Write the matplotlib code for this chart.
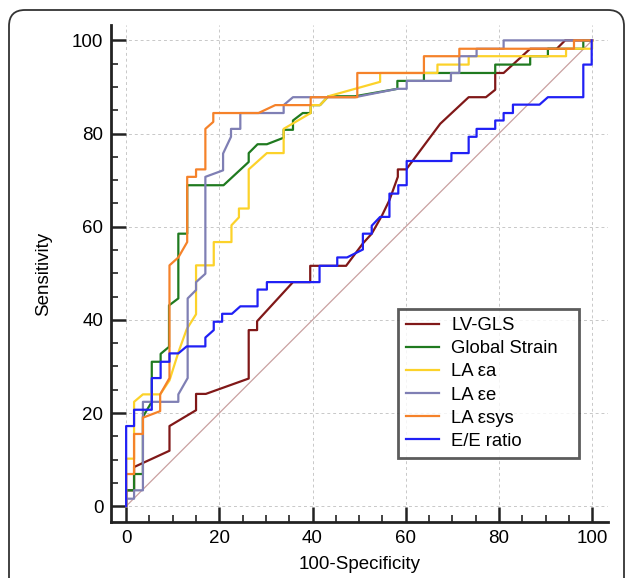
import matplotlib
matplotlib.use("Agg")
import matplotlib.pyplot as plt
from matplotlib.patches import FancyBboxPatch
from matplotlib.ticker import MultipleLocator

plt.rcParams['font.family'] = ['Liberation Sans', 'DejaVu Sans']

labels = ["LV-GLS", "Global Strain", "LA \u03b5a", "LA \u03b5e", "LA \u03b5sys", "E/E ratio"]
colors = ["#801818", "#1f7a1f", "#fcd22a", "#7f7fb4", "#f5822a", "#2020f5"]

lvgls_x = [0, 0, 1.7, 1.7, 9.3, 9.3, 15.0, 15.0, 17.1, 26.3, 26.3, 28.1, 28.1, 35.8, 39.5, 39.5, 47.2, 50.8, 52.7, 54.9, 56.5, 58.3, 58.3, 60.1, 67.4, 73.5, 77.2, 79.2, 79.2, 81.0, 86.7, 92.4, 94.2, 100]
lvgls_y = [0, 3.4, 3.4, 8.4, 11.9, 17.2, 20.6, 24.1, 24.1, 27.4, 37.8, 37.8, 39.7, 48.1, 48.1, 51.6, 51.6, 56.4, 58.5, 62.4, 65.7, 70.7, 72.3, 72.3, 82.1, 87.8, 87.8, 89.4, 93.0, 93.0, 98.2, 98.2, 100, 100]

gs_x = [0, 0, 1.7, 1.7, 3.6, 3.6, 5.5, 5.5, 7.4, 7.4, 9.2, 9.2, 11.2, 11.2, 13.1, 13.1, 20.9, 26.3, 26.3, 28.2, 30.2, 33.8, 33.8, 35.8, 35.8, 37.9, 39.6, 39.6, 41.6, 43.4, 49.1, 58.2, 58.2, 63.9, 63.9, 79.2, 79.2, 86.7, 86.7, 90.5, 90.5, 98.1, 98.1, 100]
gs_y = [0, 3.4, 3.4, 6.9, 6.9, 19.2, 22.4, 31.0, 31.0, 32.7, 34.2, 43.1, 44.6, 58.5, 58.5, 68.9, 68.9, 73.9, 75.8, 77.7, 77.7, 79.1, 80.8, 80.8, 82.8, 84.4, 84.4, 86.1, 86.1, 88.0, 88.0, 89.6, 91.3, 91.3, 93.0, 93.0, 94.8, 94.8, 96.6, 96.6, 98.2, 98.2, 100, 100]

ea_x = [0, 0, 1.7, 1.7, 3.6, 7.3, 9.3, 11.2, 13.0, 15.0, 15.0, 18.8, 18.8, 22.6, 22.6, 24.2, 24.2, 26.3, 26.3, 30.2, 33.8, 33.8, 39.6, 39.6, 41.6, 43.4, 54.5, 54.5, 66.8, 66.8, 73.5, 73.5, 94.4, 94.4, 100, 100]
ea_y = [0, 10.2, 10.2, 22.4, 24.0, 24.0, 27.0, 33.0, 38.0, 41.2, 51.7, 51.7, 56.7, 56.7, 60.3, 62.0, 63.9, 63.9, 72.3, 75.8, 75.8, 81.0, 84.4, 86.1, 86.1, 88.0, 91.1, 93.0, 93.0, 94.8, 94.8, 96.6, 96.6, 98.2, 98.2, 100]

ee_x = [0, 0, 1.7, 1.7, 3.6, 3.6, 11.2, 11.2, 13.2, 13.2, 15.0, 15.0, 17.0, 17.0, 20.8, 20.8, 22.5, 22.5, 24.5, 24.5, 33.8, 33.8, 35.8, 49.1, 58.2, 60.2, 60.2, 69.7, 69.7, 71.5, 71.5, 75.2, 75.2, 81.0, 81.0, 100]
ee_y = [0, 1.6, 1.6, 3.4, 3.4, 22.4, 22.4, 24.0, 27.5, 44.6, 46.4, 48.1, 49.9, 70.7, 72.1, 75.7, 79.3, 81.0, 81.0, 84.4, 84.4, 86.1, 87.8, 87.8, 89.6, 89.6, 91.3, 91.3, 93.0, 93.0, 96.6, 96.6, 98.2, 98.2, 100, 100]

es_x = [0, 0, 1.7, 1.7, 3.6, 3.6, 7.3, 7.3, 9.3, 9.3, 11.2, 13.1, 13.1, 15.0, 15.0, 17.0, 17.0, 18.7, 18.7, 28.4, 32.0, 39.6, 39.6, 49.6, 49.6, 63.9, 63.9, 71.5, 71.5, 96.1, 96.1, 100]
es_y = [0, 6.9, 6.9, 15.5, 15.5, 19.0, 20.4, 24.0, 27.5, 51.7, 53.4, 56.7, 70.7, 70.7, 72.3, 72.3, 81.0, 82.5, 84.4, 84.4, 86.1, 86.1, 87.8, 87.8, 93.0, 93.0, 96.6, 96.6, 98.2, 98.2, 100, 100]

ee_ratio_x = [0, 0, 1.7, 1.7, 5.5, 5.5, 7.4, 7.4, 9.3, 9.3, 11.2, 13.0, 17.0, 17.0, 18.8, 18.8, 20.6, 20.6, 22.7, 24.5, 28.2, 28.2, 30.2, 30.2, 41.5, 41.5, 45.3, 45.3, 47.4, 50.8, 50.8, 52.7, 52.7, 54.5, 56.5, 56.5, 58.4, 58.4, 60.2, 60.2, 69.8, 69.8, 73.5, 73.5, 75.2, 75.2, 79.2, 79.2, 81.0, 81.0, 83.0, 83.0, 88.7, 90.5, 98.1, 98.1, 99.9, 99.9]
ee_ratio_y = [0, 17.2, 17.2, 20.7, 20.7, 27.5, 27.5, 31.0, 31.0, 32.8, 32.8, 34.3, 34.3, 36.2, 37.8, 39.6, 39.6, 41.3, 41.3, 42.9, 42.9, 46.5, 46.5, 48.1, 48.1, 51.6, 51.6, 53.4, 53.4, 55.1, 58.5, 58.5, 60.2, 62.1, 62.1, 67.1, 67.1, 68.9, 68.9, 74.1, 74.1, 75.8, 75.8, 79.3, 79.3, 81.0, 81.0, 82.8, 82.8, 84.4, 84.4, 86.2, 86.2, 87.8, 87.8, 94.8, 94.8, 100]

series = [(lvgls_x, lvgls_y), (gs_x, gs_y), (ea_x, ea_y), (ee_x, ee_y), (es_x, es_y), (ee_ratio_x, ee_ratio_y)]

fig = plt.figure(figsize=(6.27, 5.78), dpi=100)
ax = fig.add_axes([111/627, 56/578, 497/627, 497/578])

# outer rounded border
border = FancyBboxPatch((9, -40), 615, 608, boxstyle="round,pad=0,rounding_size=16",
                        transform=None, facecolor='none', edgecolor='#333333', linewidth=1.3)
fig.add_artist(border)

ax.plot([0, 100], [0, 100], color='#c9a0a0', linewidth=0.9, zorder=2)
for (xs, ys), lab, c in zip(series, labels, colors):
    ax.plot(xs, ys, color=c, linewidth=1.6, label=lab, zorder=3)

ax.set_xlim(-3.25, 103.4)
ax.set_ylim(-3.4, 103.3)
ax.xaxis.set_major_locator(MultipleLocator(20))
ax.yaxis.set_major_locator(MultipleLocator(20))
ax.xaxis.set_minor_locator(MultipleLocator(5))
ax.yaxis.set_minor_locator(MultipleLocator(5))
ax.grid(True, which='major', linestyle=(0, (3, 3)), color='#c8c8c8', linewidth=0.7)
ax.set_axisbelow(True)
for s in ['top', 'right']:
    ax.spines[s].set_visible(False)
for s in ['left', 'bottom']:
    ax.spines[s].set_linewidth(2.0)
    ax.spines[s].set_color('#222222')
ax.tick_params(which='major', direction='in', length=10.8, width=1.8, color='#222222',
               labelsize=13.5, pad=5.5)
ax.tick_params(which='minor', direction='in', length=5, width=1.2, color='#222222')

ax.set_xlabel("100-Specificity", fontsize=13.5, labelpad=7)
ax.set_ylabel("Sensitivity", fontsize=13.5, labelpad=14)

leg_h = 146 / 497
leg = ax.legend(loc='upper left', bbox_to_anchor=(0.577, 0.4286 - leg_h, 181 / 497, leg_h),
                mode='expand', borderaxespad=0,
                fancybox=False, fontsize=13.3, handlelength=1.8, handletextpad=0.65,
                labelspacing=0.33, borderpad=0.45)
leg.get_frame().set_edgecolor('#333333')
leg.get_frame().set_linewidth(2.0)
for line in leg.get_lines():
    line.set_linewidth(1.6)

fig.savefig("out.png", dpi=100)
